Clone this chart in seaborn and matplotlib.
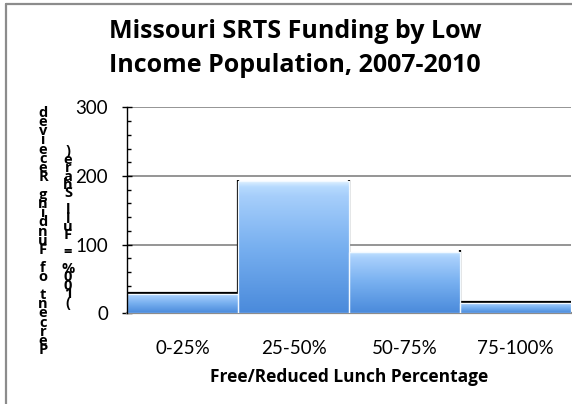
import numpy as np
import pandas as pd
import matplotlib
matplotlib.use("Agg")
import matplotlib.pyplot as plt
from matplotlib.colors import LinearSegmentedColormap
from matplotlib.patches import Rectangle
import seaborn as sns

# Data
categories = ["0-25%", "25-50%", "50-75%", "75-100%"]
funding_pct = [28, 193, 90, 15]
y_ticks = [0, 100, 200, 300]

title = "Missouri SRTS Funding by Low\nIncome Population, 2007-2010"
x_title = "Free/Reduced Lunch Percentage"
y_title_main = "Percent of Funding Received"
y_title_sub = "(100% = Full Share)"

df = pd.DataFrame({"group": categories, "pct": funding_pct})

sns.set_theme(style="white")
plt.rcParams["font.family"] = ["Lato", "DejaVu Sans"]
BOLD = ["Open Sans", "DejaVu Sans"]

W, H = 572, 404
fig = plt.figure(figsize=(W / 100, H / 100), dpi=100)
ax = fig.add_axes([127 / W, (H - 313.3) / H, (571 - 127) / W, (313.3 - 107.3) / H])

sns.barplot(data=df, x="group", y="pct", ax=ax, width=1.0, color="#7FB2EE",
            edgecolor="#F2F9FF", linewidth=0.8, saturation=1, zorder=3)

# vertical blue gradient inside each bar
grad_cmap = LinearSegmentedColormap.from_list(
    "barfill",
    [(0.0, "#4A8ADB"), (0.5, "#78B0F0"), (0.88, "#A6CEFB"),
     (0.95, "#B6DAFE"), (1.0, "#E6F5FF")])
grad = np.linspace(0, 1, 256).reshape(-1, 1)
for patch in list(ax.patches):
    x0, y0 = patch.get_x(), patch.get_y()
    w, h = patch.get_width(), patch.get_height()
    im = ax.imshow(grad, cmap=grad_cmap, origin="lower", aspect="auto",
                   extent=[x0, x0 + w, y0, y0 + h], zorder=3.5, interpolation="bicubic")
    im.set_clip_path(patch)
    ax.add_patch(Rectangle((x0, y0), w, h, fill=False, edgecolor="#F2F9FF",
                           linewidth=0.9, zorder=3.6))

# dark outline: risers between neighbouring bars and the tops of the end bars
n = len(funding_pct)
for i in range(n - 1):
    lo, hi = sorted([funding_pct[i], funding_pct[i + 1]])
    ax.vlines(i + 0.5, lo, hi + 1.5, color="black", linewidth=1.6, zorder=2.5)
for i in (0, n - 1):
    ax.hlines(funding_pct[i] + 2.0, i - 0.5, i + 0.5, color="black", linewidth=1.6,
              zorder=2.5)

ax.set_xlim(-0.5, 3.5)
ax.set_ylim(0, 300)
ax.set_yticks(y_ticks)
ax.set_yticks(np.arange(0, 301, 20), minor=True)
ax.yaxis.grid(True, which="major", color="#8C8C8C", linewidth=1.3, zorder=1)
ax.set_axisbelow(True)

for side in ["top", "right"]:
    ax.spines[side].set_visible(False)
ax.spines["left"].set_color("black")
ax.spines["left"].set_linewidth(1.0)
ax.spines["left"].set_zorder(5)
ax.spines["bottom"].set_color("#8C8C8C")
ax.spines["bottom"].set_linewidth(1.6)

ax.tick_params(axis="y", which="major", direction="inout", length=7.2, width=1.0,
               color="black", left=True, labelsize=13.5, pad=10, labelcolor="black")
ax.tick_params(axis="y", which="minor", direction="in", length=3, width=1.0,
               color="black", left=True)
ax.tick_params(axis="x", which="both", bottom=False, labelsize=13.5, pad=13,
               labelcolor="black")

ax.set_xlabel(x_title, fontsize=12.5, fontweight="bold", family=BOLD, labelpad=8,
              color="black")
ax.set_ylabel("")

fig.text(295 / W, 1 - 48.5 / H, title, ha="center", va="center", fontsize=18,
         fontweight="bold", family=BOLD, linespacing=1.5, color="black")

# stacked y-axis title, characters upright one above another
def stacked(s):
    return "\n".join(reversed(s))

fig.text(43 / W, 1 - 231.5 / H, stacked(y_title_main), ha="center", va="center",
         fontsize=10.5, fontweight="bold", family=BOLD, linespacing=0.555, color="black")
fig.text(68 / W, 1 - 227 / H, stacked(y_title_sub), ha="center", va="center",
         fontsize=10.5, fontweight="bold", family=BOLD, linespacing=0.49, color="black")

# chart area border (open towards the lower right)
fig.add_artist(plt.Line2D([5.5 / W, 5.5 / W], [0, 1 - 3.5 / H], color="#8C8C8C",
                          linewidth=1.6, transform=fig.transFigure))
fig.add_artist(plt.Line2D([5.5 / W, 1], [1 - 3.5 / H, 1 - 3.5 / H], color="#8C8C8C",
                          linewidth=1.6, transform=fig.transFigure))

fig.savefig("out.png", dpi=100, facecolor="white")
